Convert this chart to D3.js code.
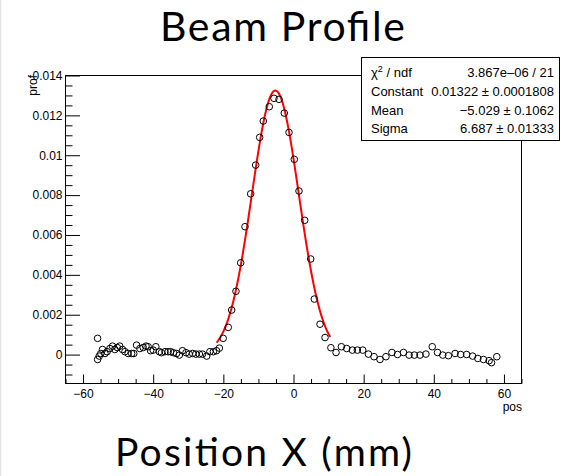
<!DOCTYPE html>
<html>
<head>
<meta charset="utf-8">
<script src="https://cdn.jsdelivr.net/npm/d3@7"></script>
<style>
  html, body { margin: 0; padding: 0; background: #fff; }
  svg { display: block; }
</style>
</head>
<body>
<svg id="chart" width="564" height="476"></svg>
<script>
// Measured profile: position (mm) and profile value
const posX = [
  -55.7, -55.7, -55.25, -54.8, -54.3, -53.6, -53.0, -52.2, -51.45, -50.8,
  -50.1, -49.4, -48.6, -47.9, -47.0, -46.0, -45.4, -44.6, -43.65, -42.7,
  -41.9, -41.3, -40.6, -39.85, -39.1, -38.1, -37.5, -36.5, -35.6, -34.9,
  -34.1, -33.2, -32.4, -31.5, -30.5, -29.6, -28.6, -27.7, -26.7, -25.8,
  -24.6, -23.7, -22.7, -21.8, -21.0,
  -19.9, -18.46, -17.49, -16.26, -14.92, -13.69, -12.07, -10.64, -9.50, -8.47,
  -6.76, -5.42, -3.99, -2.48, -1.14, 0.37, 1.71, 3.34, 5.05, 6.08,
  7.70, 9.13, 10.8,
  12.27, 13.79, 15.31, 16.93, 18.36, 19.88, 21.5, 23.1, 24.8, 26.5,
  28.2, 29.8, 31.5, 33.1, 34.6, 36.2, 37.9, 39.7, 41.2, 42.7,
  44.3, 46.2, 47.8, 49.5, 51.2, 52.7, 54.3, 55.9, 56.6, 58.1
];
const prof = [
  0.00079, -0.00027, -0.0001, 0.00003, 0.00023, 0.00003, 0.00012, 0.00028, 0.0004, 0.00023,
  0.00033, 0.0004, 0.00023, 0.00012, 0.00003, 0.00003, 0.00003, 0.00045, 0.00028, 0.00033,
  0.0004, 0.00037, 0.00017, 0.0002, 0.00037, 0.00012, 0.00007, 0.00012, 0.00012, 0.00012,
  0.00007, 0.00003, -0.00005, 0.00017, 0.00007, 0.0, 0.00003, 0.0, 0.0, 0.0,
  -0.0001, 0.00012, 0.00012, 0.00017, 0.0003,
  0.00079, 0.00134, 0.00221, 0.00315, 0.00458, 0.00639, 0.00804, 0.00948, 0.01087, 0.01169,
  0.01241, 0.01283, 0.01278, 0.01209, 0.01112, 0.00977, 0.00818, 0.00671, 0.00477, 0.00276,
  0.0015, 0.00083, 0.00032,
  0.00008, 0.00037, 0.00028, 0.0002, 0.0002, 0.0002, 0.0, -0.00013, -0.00027, -0.00013,
  0.00008, -0.00002, 0.00008, -0.00005, -0.00005, -0.00005, 0.0, 0.00037, 0.00008, -0.00005,
  -0.00008, 0.00003, -0.00002, -0.00002, -0.0001, -0.00022, -0.00027, -0.00033, -0.00043, -0.00013
];

// Gaussian fit results and fit range
const fitNames = ["Constant", "Mean", "Sigma"];
const fitValues = [0.01322, -5.029, 6.687];
const fitErrors = ["0.0001808", "0.1062", "0.01333"];
const fitRange = [-21.8, 10.6];
const chi2Label = "3.867e\u201306 / 21";

// Axis ticks
const xMajorTicks = [-60, -40, -20, 0, 20, 40, 60];
const xTickLabels = ["\u221260", "\u221240", "\u221220", "0", "20", "40", "60"];
const yMajorTicks = [0, 0.002, 0.004, 0.006, 0.008, 0.01, 0.012, 0.014];
const yTickLabels = ["0", "0.002", "0.004", "0.006", "0.008", "0.01", "0.012", "0.014"];

const svg = d3.select("#chart");
const rootFont = "'Liberation Sans', Arial, Helvetica, sans-serif";
const titleFont = "Lato, 'Open Sans', sans-serif";

// faint page edge
svg.append("line").attr("x1", 0.5).attr("x2", 0.5).attr("y1", 0).attr("y2", 476)
  .attr("stroke", "#e2e2e2").attr("stroke-width", 1.5);

const frame = { left: 65, right: 521, top: 75, bottom: 383 };
const x = d3.scaleLinear().domain([-65, 65]).range([frame.left, frame.right]);
const y = d3.scaleLinear().domain([-0.00145, 0.014]).range([frame.bottom, frame.top]);

// frame
svg.append("rect")
  .attr("x", frame.left + 0.5).attr("y", frame.top + 0.5)
  .attr("width", frame.right - frame.left).attr("height", frame.bottom - frame.top)
  .attr("fill", "none").attr("stroke", "#000").attr("stroke-width", 1);

// x axis ticks (pointing into the frame)
const xAxis = d3.axisBottom(x).tickValues(xMajorTicks)
  .tickSize(-9).tickPadding(6)
  .tickFormat((d, i) => xTickLabels[i]);
const gx = svg.append("g").attr("transform", `translate(0.5,${frame.bottom + 0.5})`).call(xAxis);
gx.select(".domain").remove();
gx.selectAll("text").attr("font-family", rootFont).attr("font-size", 12).attr("fill", "#000");
const xMinor = d3.range(-65, 65.01, 5).filter(v => xMajorTicks.indexOf(v) < 0);
const gxm = svg.append("g").attr("transform", `translate(0.5,${frame.bottom + 0.5})`)
  .call(d3.axisBottom(x).tickValues(xMinor).tickSize(-4.5).tickFormat(""));
gxm.select(".domain").remove();

// y axis ticks
const yAxis = d3.axisLeft(y).tickValues(yMajorTicks)
  .tickSize(-14.5).tickPadding(3)
  .tickFormat((d, i) => yTickLabels[i]);
const gy = svg.append("g").attr("transform", `translate(${frame.left + 0.5},0.5)`).call(yAxis);
gy.select(".domain").remove();
gy.selectAll("text").attr("font-family", rootFont).attr("font-size", 12).attr("fill", "#000");
const yMinor = d3.range(-0.001, 0.01401, 0.0005).filter(v => !yMajorTicks.some(m => Math.abs(m - v) < 1e-9));
const gym = svg.append("g").attr("transform", `translate(${frame.left + 0.5},0.5)`)
  .call(d3.axisLeft(y).tickValues(yMinor).tickSize(-7).tickFormat(""));
gym.select(".domain").remove();
svg.selectAll(".tick line").attr("stroke", "#000");

// axis titles
svg.append("text").attr("x", frame.right + 1).attr("y", 411)
  .attr("text-anchor", "end").attr("font-family", rootFont).attr("font-size", 12)
  .text("pos");
svg.append("text").attr("transform", `translate(37,${frame.top}) rotate(-90)`)
  .attr("text-anchor", "end").attr("font-family", rootFont).attr("font-size", 12)
  .text("prof");

// fitted gaussian
const gauss = v => fitValues[0] * Math.exp(-0.5 * Math.pow((v - fitValues[1]) / fitValues[2], 2));
const fitX = d3.range(0, 301).map(i => fitRange[0] + (fitRange[1] - fitRange[0]) * i / 300);
svg.append("path")
  .datum(fitX)
  .attr("d", d3.line().x(d => x(d)).y(d => y(gauss(d))))
  .attr("fill", "none").attr("stroke", "#ff0000").attr("stroke-width", 2);

// data markers
svg.append("g").selectAll("circle")
  .data(posX.map((p, i) => [p, prof[i]]))
  .join("circle")
  .attr("cx", d => x(d[0])).attr("cy", d => y(d[1])).attr("r", 3.3)
  .attr("fill", "none").attr("stroke", "#000").attr("stroke-width", 1);

// statistics box
const box = { x: 361, y: 57, w: 198, h: 83 };
svg.append("rect").attr("x", box.x + 0.5).attr("y", box.y + 0.5)
  .attr("width", box.w).attr("height", box.h)
  .attr("fill", "#fff").attr("stroke", "#000").attr("stroke-width", 1);
const rowY = [77, 96, 115, 133];
const stats = svg.append("g").attr("font-family", rootFont).attr("font-size", 13).attr("fill", "#000");
const chiLabel = stats.append("text").attr("x", box.x + 10).attr("y", rowY[0]);
chiLabel.append("tspan").text("\u03c7");
chiLabel.append("tspan").attr("font-size", 9).attr("dy", -5).text("2");
chiLabel.append("tspan").attr("dy", 5).text(" / ndf");
stats.append("text").attr("x", box.x + box.w - 5).attr("y", rowY[0])
  .attr("text-anchor", "end").text(chi2Label);
const fmt = [v => v.toFixed(5), v => "\u2212" + Math.abs(v).toFixed(3), v => v.toFixed(3)];
fitNames.forEach((n, i) => {
  stats.append("text").attr("x", box.x + 10).attr("y", rowY[i + 1]).text(n);
  stats.append("text").attr("x", box.x + box.w - 5).attr("y", rowY[i + 1])
    .attr("text-anchor", "end").text(fmt[i](fitValues[i]) + " \u00b1 " + fitErrors[i]);
});

// slide title and caption
svg.append("text").attr("x", 160).attr("y", 41)
  .attr("font-family", titleFont).attr("font-size", 41).attr("fill", "#000")
  .attr("textLength", 245).attr("lengthAdjust", "spacing")
  .text("Beam Profile");
svg.append("text").attr("x", 115).attr("y", 466)
  .attr("font-family", titleFont).attr("font-size", 39).attr("fill", "#000")
  .attr("textLength", 297).attr("lengthAdjust", "spacing")
  .text("Position X (mm)");
</script>
</body>
</html>
